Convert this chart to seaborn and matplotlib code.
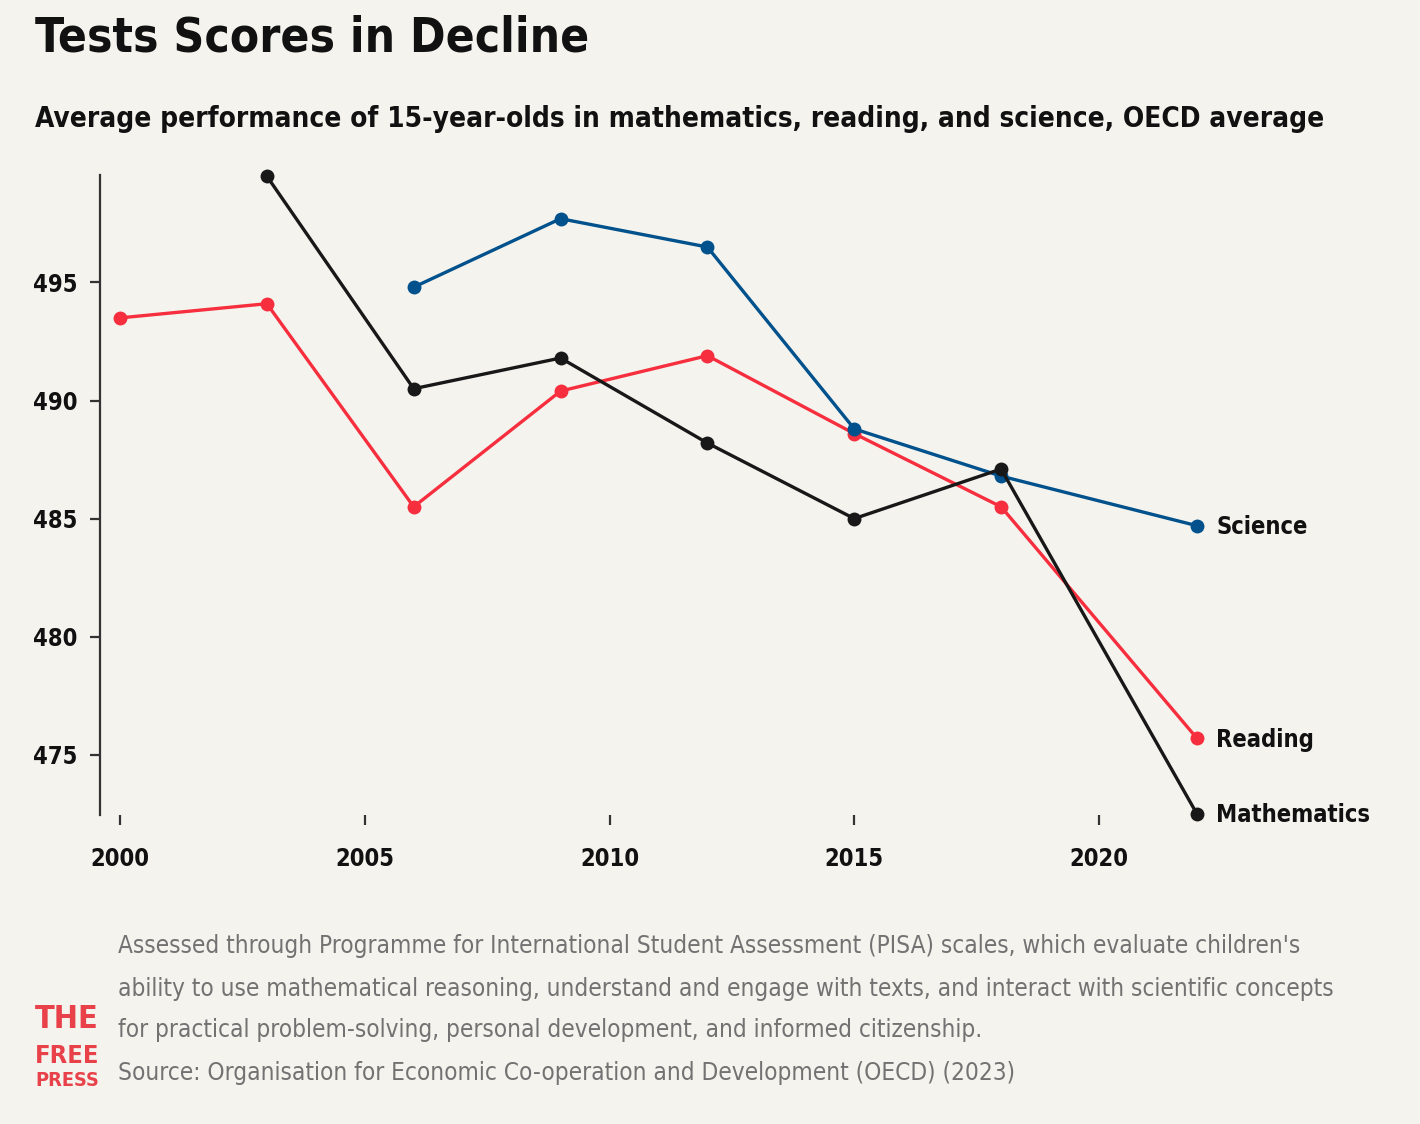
import numpy as np
import pandas as pd
import matplotlib
matplotlib.use("Agg")
import matplotlib.pyplot as plt
import seaborn as sns

sns.set_theme(style="white")
plt.rcParams['font.family'] = ['DejaVu Sans']
plt.rcParams['font.stretch'] = 'condensed'

BG = "#f4f3ee"
INK = "#111111"

# data (PISA OECD averages)
years_reading = [2000, 2003, 2006, 2009, 2012, 2015, 2018, 2022]
reading = [493.5, 494.1, 485.5, 490.4, 491.9, 488.6, 485.5, 475.7]

years_math = [2003, 2006, 2009, 2012, 2015, 2018, 2022]
math = [499.5, 490.5, 491.8, 488.2, 485.0, 487.1, 472.5]

years_science = [2006, 2009, 2012, 2015, 2018, 2022]
science = [494.8, 497.7, 496.5, 488.8, 486.8, 484.7]

series_colors = {"Science": "#00518c", "Reading": "#f62e3e", "Mathematics": "#181818"}

x_ticks = [2000, 2005, 2010, 2015, 2020]
y_ticks = [475, 480, 485, 490, 495]

frames = []
for name, yrs, vals in [("Reading", years_reading, reading),
                        ("Science", years_science, science),
                        ("Mathematics", years_math, math)]:
    frames.append(pd.DataFrame({"year": yrs, "score": vals, "subject": name}))
df = pd.concat(frames, ignore_index=True)

fig = plt.figure(figsize=(14.2, 11.24), dpi=100)
fig.patch.set_facecolor(BG)
ax = fig.add_axes([100 / 1420, 1 - 815 / 1124, 1100 / 1420, 640 / 1124])
ax.set_facecolor(BG)

for name in ["Reading", "Science", "Mathematics"]:
    sub = df[df["subject"] == name]
    sns.lineplot(data=sub, x="year", y="score", ax=ax, color=series_colors[name],
                 linewidth=2.4, marker="o", markersize=10, markeredgewidth=0,
                 legend=False, clip_on=False)
    last = sub.iloc[-1]
    ax.annotate(name, (last["year"], last["score"]), xytext=(14, -1),
                textcoords="offset points", va="center", ha="left",
                fontsize=17, fontweight="bold", color=INK)

px_per_year = (1099 - 120) / 20
ax.set_xlim(2000 - 20 / px_per_year, 2000 + 1080 / px_per_year)
ax.set_ylim(df["score"].min() - 0.05, df["score"].max() + 0.05)

ax.set_xticks(x_ticks)
ax.set_yticks(y_ticks)
ax.set_xlabel("")
ax.set_ylabel("")
for s in ["top", "right", "bottom"]:
    ax.spines[s].set_visible(False)
ax.spines["left"].set_color("#333333")
ax.spines["left"].set_linewidth(1.6)
ax.tick_params(axis="y", length=7, width=1.6, color="#333333", pad=9,
               labelsize=17, labelcolor=INK, left=True)
ax.tick_params(axis="x", length=7, width=1.6, color="#333333", pad=16,
               labelsize=17, labelcolor=INK, bottom=True, direction="out")
for lab in ax.get_xticklabels() + ax.get_yticklabels():
    lab.set_fontweight("bold")

title = fig.text(35 / 1420, 1 - 38 / 1124, "Tests Scores in Decline", fontsize=40,
                 fontweight="bold", color=INK, va="center", ha="left")
subtitle = fig.text(35 / 1420, 1 - 119 / 1124,
                    "Average performance of 15-year-olds in mathematics, reading, and science, OECD average",
                    fontsize=22, fontweight="bold", color=INK, va="center", ha="left")

foot_lines = ["Assessed through Programme for International Student Assessment (PISA) scales, which evaluate children's",
              "ability to use mathematical reasoning, understand and engage with texts, and interact with scientific concepts",
              "for practical problem-solving, personal development, and informed citizenship.",
              "Source: Organisation for Economic Co-operation and Development (OECD) (2023)"]
foot_y = [946, 989, 1030, 1073]
foot = [fig.text(118 / 1420, 1 - y / 1124, line, fontsize=18, color="#727272",
                 va="center", ha="left") for line, y in zip(foot_lines, foot_y)]

logo_red = "#e8414a"
logo = [fig.text(67 / 1420, 1 - 1019 / 1124, "THE", fontsize=29, fontweight="bold",
                 color=logo_red, ha="center", va="center"),
        fig.text(67 / 1420, 1 - 1056 / 1124, "FREE", fontsize=19, fontweight="bold",
                 color=logo_red, ha="center", va="center"),
        fig.text(67 / 1420, 1 - 1081 / 1124, "PRESS", fontsize=16, fontweight="bold",
                 color=logo_red, ha="center", va="center")]

# scale a few texts so their widths match the original layout
renderer = fig.canvas.get_renderer()


def fit_width(t, target_px):
    w = t.get_window_extent(renderer).width
    t.set_fontsize(t.get_fontsize() * target_px / w)


fit_width(title, 553)
fit_width(subtitle, 1281)
fit_width(foot[0], 1179)
for t in foot[1:]:
    t.set_fontsize(foot[0].get_fontsize())
for t in logo:
    fit_width(t, 64)

fig.savefig("out.png", dpi=100, facecolor=BG)
